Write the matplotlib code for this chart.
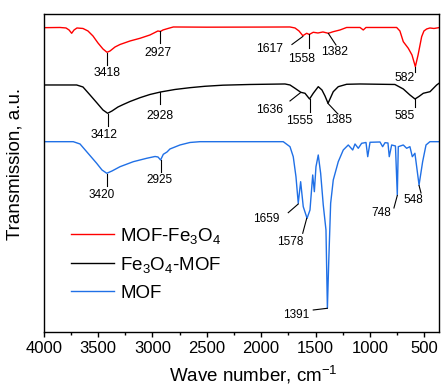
import matplotlib
matplotlib.use('Agg')
import matplotlib.pyplot as plt
import numpy as np

plt.rcParams['font.family'] = ['Liberation Sans', 'DejaVu Sans']
plt.rcParams['mathtext.fontset'] = 'custom'
plt.rcParams['mathtext.rm'] = 'Liberation Sans'
plt.rcParams['mathtext.it'] = 'Liberation Sans:italic'
plt.rcParams['mathtext.bf'] = 'Liberation Sans:bold'

# ---------------- data (transmission in arbitrary units, offset curves) ----------------
red_wn = [4000, 3850, 3795, 3767, 3743, 3721, 3694, 3639, 3593, 3547, 3501, 3455, 3418, 3390,
          3344, 3298, 3206, 3114, 3023, 2977, 2950, 2927, 2903, 2857, 2808, 2500, 2000, 1735,
          1689, 1652, 1617, 1581, 1558, 1521, 1478, 1432, 1382, 1337, 1275, 1214, 1091, 1061,
          1036, 754, 724, 693, 647, 613, 582, 557, 524, 503, 478, 448, 411, 367]
red_t = [304.6, 304.8, 304.3, 302.3, 299.0, 302.3, 304.3, 303.8, 301.3, 296.3, 289.3, 283.3, 280.0, 281.3,
         285.3, 287.8, 291.3, 294.0, 297.3, 299.8, 301.3, 300.8, 302.3, 303.8, 305.3, 305.1, 305.2, 305.3,
         304.3, 301.3, 296.6, 299.0, 297.8, 300.0, 299.3, 300.3, 299.0, 300.6, 302.3, 304.8, 304.8, 302.3,
         304.8, 304.8, 301.3, 290.6, 284.0, 277.3, 265.6, 277.3, 295.6, 301.3, 303.3, 304.3, 303.8, 304.6]

black_wn = [4000, 3697, 3639, 3574, 3510, 3455, 3412, 3372, 3317, 3268, 3206, 3114, 3023, 2925,
            2793, 2655, 2517, 2351, 2103, 1781, 1735, 1689, 1636, 1597, 1555, 1521, 1475, 1441,
            1413, 1385, 1337, 1291, 1214, 1091, 770, 693, 632, 585, 549, 509, 447, 386, 367]
black_t = [247.3, 247.3, 245.3, 237.3, 229.3, 222.3, 219.0, 221.3, 225.3, 227.8, 230.8, 234.6, 237.8, 240.3,
           242.8, 244.6, 246.0, 247.1, 247.8, 248.3, 247.3, 244.0, 240.0, 239.0, 233.3, 239.0, 245.6, 242.3,
           236.3, 229.0, 240.6, 245.6, 248.0, 248.3, 247.8, 243.3, 237.3, 233.3, 235.8, 239.0, 240.6, 247.3, 248.8]

blue_wn = [4000, 3728, 3666, 3605, 3513, 3464, 3420, 3372, 3298, 3176, 3053, 2976, 2949, 2925,
           2900, 2866, 2839, 2793, 2747, 2655, 2563, 1797, 1735, 1705, 1680, 1659, 1637, 1613,
           1578, 1551, 1526, 1511, 1496, 1475, 1453, 1429, 1404, 1391, 1379, 1361, 1337, 1291,
           1245, 1199, 1158, 1137, 1107, 1076, 1036, 1020, 999, 907, 883, 861, 834, 822, 800,
           765, 748, 739, 693, 662, 632, 610, 586, 548, 515, 484, 448, 367]
blue_t = [190.6, 190.6, 188.3, 180.6, 169.0, 162.3, 159.0, 161.3, 165.6, 170.6, 174.0, 175.8, 175.3, 172.3,
          178.0, 180.3, 183.3, 185.3, 187.3, 189.8, 190.6, 190.6, 185.6, 175.6, 155.6, 129.0, 150.6, 125.6,
          114.0, 122.3, 157.3, 140.6, 165.6, 177.3, 159.0, 127.3, 102.3, 24.0, 69.3, 129.0, 152.3, 170.6,
          182.3, 187.3, 182.3, 188.3, 184.0, 189.0, 189.8, 175.6, 190.0, 190.3, 185.6, 189.6, 189.3, 175.6, 187.3,
          186.3, 137.3, 185.6, 187.3, 184.0, 185.6, 175.6, 179.0, 147.3, 170.6, 187.3, 190.6, 190.6]

series_labels = ['MOF-Fe$_3$O$_4$', 'Fe$_3$O$_4$-MOF', 'MOF']
series_colors = ['#ff0000', '#000000', '#2070e6']

# peak annotations: label, (line start wn, T), (line end wn, T), (text wn, T)
red_peaks = [('3418', (3418, 278.8), (3418, 267.3), (3418, 259.6)),
             ('2927', (2927, 301.0), (2927, 289.0), (2949, 279.3)),
             ('1617', (1617, 295.8), (1717, 287.8), (1919, 283.3)),
             ('1558', (1558, 298.0), (1558, 284.3), (1627, 273.3)),
             ('1382', (1382, 298.8), (1312, 287.3), (1321, 280.6)),
             ('582', (582, 265.3), (582, 259.8), (677, 254.0))]
black_peaks = [('3412', (3412, 218.3), (3412, 205.8), (3448, 197.3)),
               ('2928', (2928, 240.3), (2928, 228.3), (2930, 216.3)),
               ('1636', (1636, 239.8), (1735, 231.3), (1919, 222.3)),
               ('1555', (1555, 233.3), (1555, 220.3), (1649, 211.6)),
               ('1385', (1385, 228.8), (1294, 218.3), (1291, 212.3)),
               ('585', (585, 233.3), (585, 224.8), (677, 216.3))]
blue_peaks = [('3420', (3420, 158.3), (3420, 146.3), (3467, 137.0)),
              ('2925', (2925, 171.8), (2925, 159.8), (2937, 152.3)),
              ('1659', (1659, 128.3), (1751, 119.6), (1949, 113.3)),
              ('1578', (1581, 114.0), (1618, 99.0), (1729, 90.6)),
              ('1391', (1392, 24.0), (1521, 22.3), (1680, 16.8)),
              ('748', (748, 136.8), (779, 124.3), (898, 119.0)),
              ('548', (548, 146.8), (530, 139.3), (601, 132.3))]

# ---------------- figure ----------------
fig = plt.figure(figsize=(4.42, 3.85), dpi=100)
ax = fig.add_axes([0.0989, 0.1369, 0.8937, 0.8268])

for wn, t, lab, col in zip([red_wn, black_wn, blue_wn], [red_t, black_t, blue_t],
                           series_labels, series_colors):
    ax.plot(wn, t, color=col, lw=1.0, label=lab)

for peaks, fs in [(red_peaks, 8.8), (black_peaks, 8.8), (blue_peaks, 8.5)]:
    for lab, p0, p1, pt in peaks:
        ax.plot([p0[0], p1[0]], [p0[1], p1[1]], color='black', lw=0.8)
        ax.text(pt[0], pt[1], lab, fontsize=fs, ha='center', va='center')

ax.set_xlim(4000, 367)
ax.set_ylim(0, 318.3)
ax.set_xticks(np.arange(4000, 499, -500))
ax.set_xticks(np.arange(3750, 600, -500), minor=True)
ax.set_yticks([])
ax.tick_params(axis='x', which='major', direction='out', length=3.6, width=1.0, labelsize=12, pad=2.5)
ax.tick_params(axis='x', which='minor', direction='out', length=2.0, width=1.0)
for s in ax.spines.values():
    s.set_linewidth(1.0)

ax.set_xlabel('Wave number, cm$^{-1}$', fontsize=13.5)
ax.xaxis.set_label_coords(0.532, -0.10)
ax.set_ylabel('Transmission, a.u.', fontsize=13.5)
ax.yaxis.set_label_coords(-0.05, 0.53)

leg = ax.legend(loc='upper left', bbox_to_anchor=(0.068, 0.335), frameon=False, fontsize=13.5,
                handlelength=2.3, handletextpad=0.35, labelspacing=0.5, borderpad=0, borderaxespad=0)

fig.savefig('out.png', dpi=100)
